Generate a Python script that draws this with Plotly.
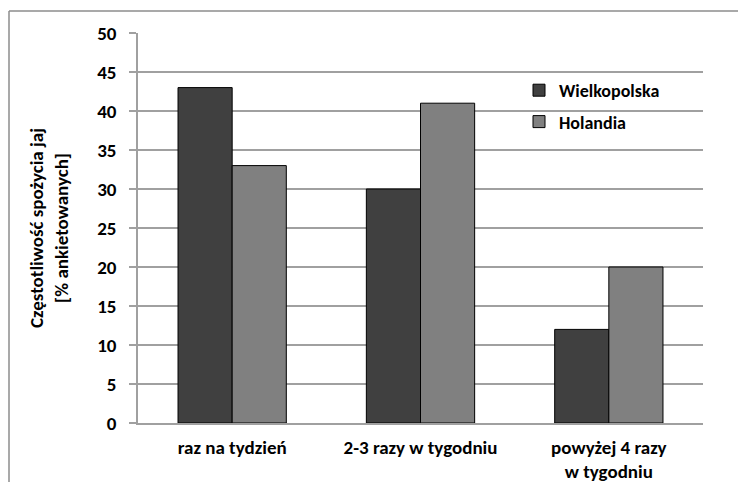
import plotly.graph_objects as go

categories = ["raz na tydzień", "2-3 razy w tygodniu", "powyżej 4 razy<br>w tygodniu"]
wielkopolska = [43, 30, 12]
holandia = [33, 41, 20]
series_names = ["Wielkopolska", "Holandia"]
y_ticks = [0, 5, 10, 15, 20, 25, 30, 35, 40, 45, 50]
y_title = "Częstotliwość spożycia jaj<br>[% ankietowanych]"

FONT = "Calibri, Carlito, Lato, sans-serif"
GRID = "#a0a0a0"
FS = 19

W, H = 738, 482
L, R, T, B = 138, 35, 33, 59
pw, ph = W - L - R, H - T - B

fig = go.Figure()
fig.add_trace(go.Bar(x=categories, y=wielkopolska, name=series_names[0],
                     marker=dict(color="#404040", line=dict(color="#000000", width=1)),
                     legendgroup="a"))
fig.add_trace(go.Bar(x=categories, y=holandia, name=series_names[1],
                     marker=dict(color="#808080", line=dict(color="#000000", width=1)),
                     legendgroup="b"))

def px(x):
    return (x - L) / pw

def py(y):
    return (H - B - y) / ph

fig.update_layout(
    width=W, height=H,
    margin=dict(l=L, r=R, t=T, b=B, pad=0),
    paper_bgcolor="white", plot_bgcolor="white",
    barmode="group", bargap=0.425, bargroupgap=0,
    font=dict(family=FONT, size=FS, color="#000000", weight="bold"),
    showlegend=True,
    legend=dict(x=px(519), y=py(72), xanchor="left", yanchor="top",
                bgcolor="rgba(0,0,0,0)", borderwidth=0, tracegroupgap=5,
                font=dict(family=FONT, size=FS - 1, color="#000000", weight="bold")),
    xaxis=dict(showgrid=False, showline=True, linecolor=GRID, linewidth=1.5,
               ticks="", tickfont=dict(family=FONT, size=FS, weight="bold"),
               ticklabelstandoff=6, automargin=False),
    yaxis=dict(range=[0, 50], tickvals=y_ticks, showgrid=True, gridcolor=GRID, gridwidth=1.5,
               zeroline=False, showline=True, linecolor=GRID, linewidth=1.5,
               ticks="outside", ticklen=7, tickcolor=GRID, tickwidth=1.5,
               tickfont=dict(family=FONT, size=FS, weight="bold"),
               ticklabelstandoff=9, automargin=False),
)

fig.add_annotation(text=y_title, xref="paper", yref="paper", x=px(49), y=py(228),
                   xanchor="center", yanchor="middle", textangle=-90, showarrow=False,
                   font=dict(family=FONT, size=FS, color="#000000", weight="bold"))

border = dict(color="#8c8c8c", width=1.5)
fig.add_shape(type="line", xref="paper", yref="paper",
              x0=px(9), y0=py(11), x1=px(760), y1=py(11), line=border, layer="below")
fig.add_shape(type="line", xref="paper", yref="paper",
              x0=px(9), y0=py(11), x1=px(9), y1=py(500), line=border, layer="below")

fig.write_html("out.html")
